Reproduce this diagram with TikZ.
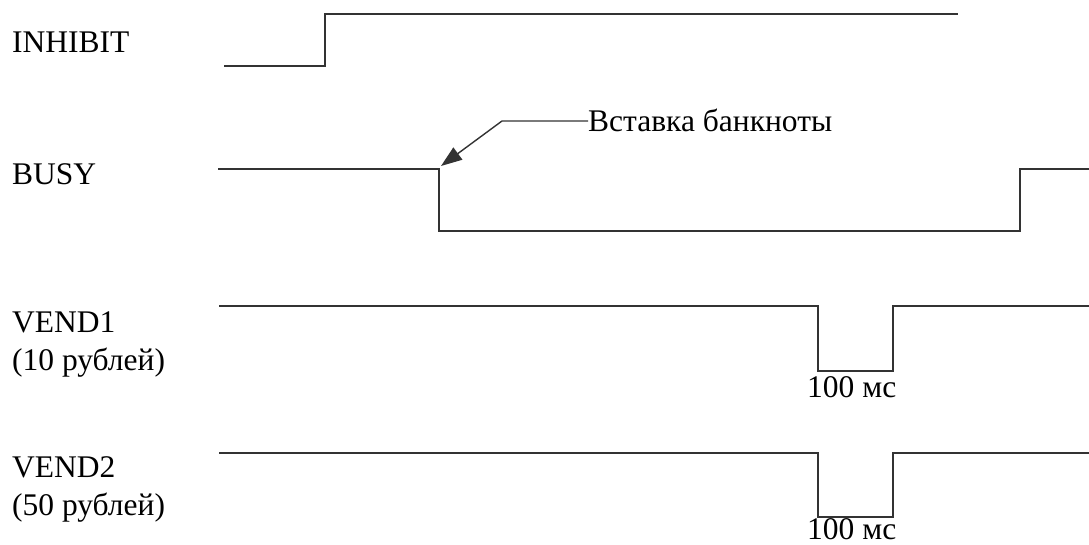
\documentclass[tikz,border=0pt]{standalone}
\usepackage{fontspec}
\setmainfont{Liberation Serif}
\usetikzlibrary{arrows.meta}
\begin{document}
\begin{tikzpicture}[x=1pt,y=-1pt,
  sig/.style={line width=1.8pt, draw=black!80, line join=miter},
  lbl/.style={anchor=base west, inner sep=0pt, font=\fontsize{31.5}{38}\selectfont}]
\useasboundingbox (0,0) rectangle (1089,545);
% labels
\node[lbl] (inh) at (12,53) {INHIBIT};
\node[lbl] (busy) at (12,185) {BUSY};
\node[lbl] (v1a) at (12,332) {VEND1};
\node[lbl] (v1b) at (12,370) {(10 рублей)};
\node[lbl] (v2a) at (12,477) {VEND2};
\node[lbl] (v2b) at (12,515) {(50 рублей)};
% INHIBIT
\draw[sig] (224,66) -- (325,66) -- (325,14) -- (958,14);
% BUSY
\draw[sig] (218,169) -- (439,169) -- (439,231) -- (1020,231) -- (1020,169) -- (1089,169);
% VEND1
\draw[sig] (219,306) -- (818,306) -- (818,371) -- (893,371) -- (893,306) -- (1089,306);
\node[lbl] (t1) at (807,397) {100 мс};
% VEND2
\draw[sig] (219,453) -- (818,453) -- (818,517) -- (893,517) -- (893,453) -- (1089,453);
\node[lbl] (t2) at (807,539) {100 мс};
% annotation
\node[lbl] (ins) at (588,132) {Вставка банкноты};
\coordinate (bend) at (502,121);
\coordinate (tip) at (441,166);
\draw[line width=1.4pt, draw=black!80, -{Triangle[length=21pt,width=15pt]}] (ins.west |- bend) -- (bend) -- (tip);
\end{tikzpicture}
\end{document}
